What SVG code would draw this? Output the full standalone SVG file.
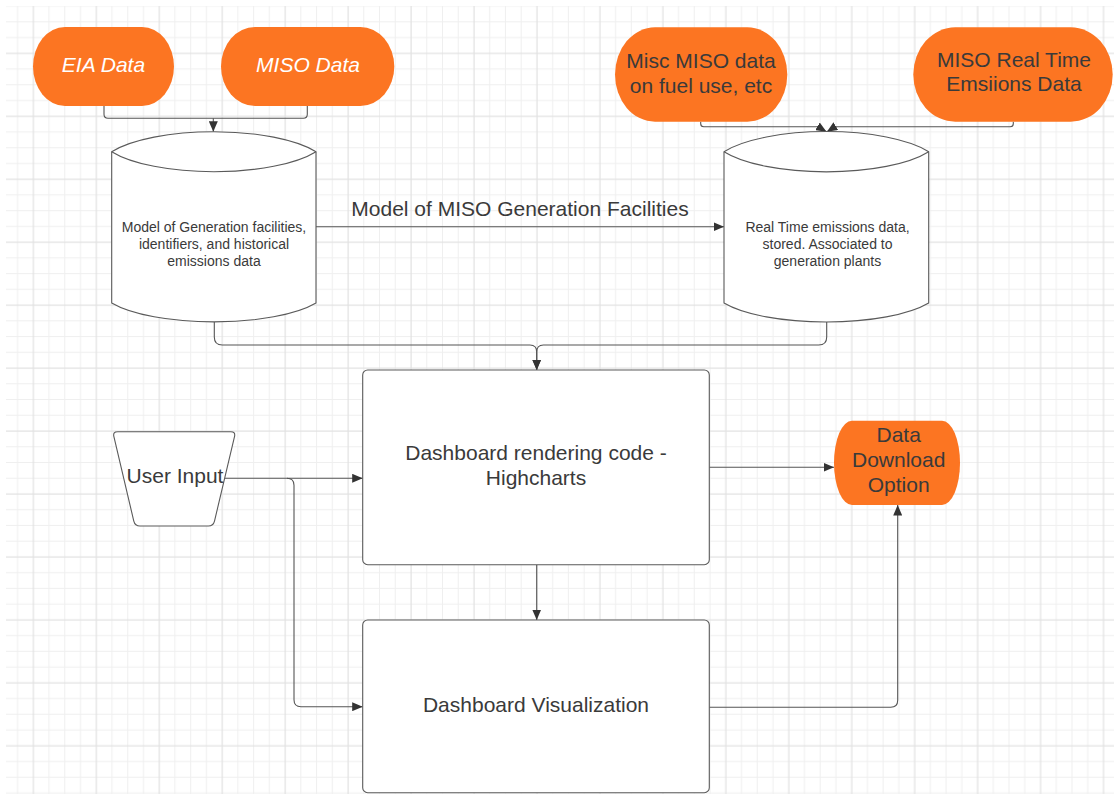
<svg xmlns="http://www.w3.org/2000/svg" width="1114" height="794" viewBox="0 0 1114 794">
  <defs>
    <style>
      .shape { fill: #ffffff; stroke: #5a5a5a; stroke-width: 1.1; }
      .orange { fill: #fc7522; stroke: none; }
      .conn { fill: none; stroke: #555555; stroke-width: 1.1; }
      .big { font-family: "Liberation Sans", Arial, sans-serif; font-size: 21px; fill: #3a3a3a; text-anchor: middle; }
      .white { fill: #ffffff; font-style: italic; }
      .small { font-family: "Liberation Sans", Arial, sans-serif; font-size: 14px; fill: #3a3a3a; text-anchor: middle; }
    </style>
    <pattern id="grid" x="33.3" y="53.3" width="62.95" height="62.95" patternUnits="userSpaceOnUse">
      <rect x="15.24" y="0" width="1" height="62.95" fill="#efefef"/>
      <rect x="30.97" y="0" width="1" height="62.95" fill="#efefef"/>
      <rect x="46.71" y="0" width="1" height="62.95" fill="#efefef"/>
      <rect x="0" y="15.24" width="62.95" height="1" fill="#efefef"/>
      <rect x="0" y="30.97" width="62.95" height="1" fill="#efefef"/>
      <rect x="0" y="46.71" width="62.95" height="1" fill="#efefef"/>
      <rect x="-0.5" y="0" width="1.2" height="62.95" fill="#e1e1e1"/>
      <rect x="62.45" y="0" width="1.2" height="62.95" fill="#e1e1e1"/>
      <rect x="0" y="-0.5" width="62.95" height="1.2" fill="#e1e1e1"/>
      <rect x="0" y="62.45" width="62.95" height="1.2" fill="#e1e1e1"/>
    </pattern>
    <marker id="arrow" markerUnits="userSpaceOnUse" markerWidth="11" markerHeight="9" refX="10.5" refY="4.5" orient="auto">
      <path d="M0,0 L10.5,4.5 L0,9 Z" fill="#333333"/>
    </marker>
  </defs>

  <rect x="0" y="0" width="1114" height="794" fill="#ffffff"/>
  <rect x="6" y="6" width="1108" height="788" fill="url(#grid)"/>

  <g id="connectors">
    <path class="conn" d="M104,106 V114.3 Q104,118.3 108,118.3 H303.3 Q307.3,118.3 307.3,114.3 V106"/>
    <path class="conn" marker-end="url(#arrow)" d="M213.3,118.3 V131.7"/>
    <path class="conn" marker-end="url(#arrow)" d="M700.7,121.7 V123.7 Q700.7,126.7 703.7,126.7 H818 L826.5,131.7"/>
    <path class="conn" marker-end="url(#arrow)" d="M1013.3,121.7 V123.7 Q1013.3,126.7 1010.3,126.7 H835 L826.9,131.7"/>
    <path class="conn" marker-end="url(#arrow)" d="M316,226.7 H724"/>
    <path class="conn" marker-end="url(#arrow)" d="M214.3,322 V337 Q214.3,345 222.3,345 H530 Q536.7,345 536.7,352 V370"/>
    <path class="conn" marker-end="url(#arrow)" d="M826.7,322 V337 Q826.7,345 818.7,345 H543.4 Q536.7,345 536.7,352 V370"/>
    <path class="conn" marker-end="url(#arrow)" d="M224.7,478.3 H362.7"/>
    <path class="conn" marker-end="url(#arrow)" d="M287,478.3 Q294,478.3 294,485.3 V699.7 Q294,706.7 301,706.7 H362.7"/>
    <path class="conn" marker-end="url(#arrow)" d="M709.3,467.3 H834"/>
    <path class="conn" marker-end="url(#arrow)" d="M536.7,564.7 V620"/>
    <path class="conn" marker-end="url(#arrow)" d="M709.3,707.3 H890.7 Q897.7,707.3 897.7,700.3 V505"/>
    <text class="big" x="520" y="215.5">Model of MISO Generation Facilities</text>
  </g>

  <g id="eia-data">
    <rect class="orange" x="33" y="27" width="141" height="79" rx="32" ry="39.5"/>
    <text class="big white" x="103.5" y="71.7">EIA Data</text>
  </g>

  <g id="miso-data">
    <rect class="orange" x="221" y="27" width="173.3" height="79" rx="34" ry="39.5" stroke="#555555" stroke-width="1"/>
    <text class="big white" x="308" y="71.7">MISO Data</text>
  </g>

  <g id="misc-miso">
    <rect class="orange" x="615" y="27.3" width="172.3" height="94.4" rx="40" ry="47.2"/>
    <text class="big" x="701" y="67.5">Misc MISO data</text>
    <text class="big" x="701" y="92.5">on fuel use, etc</text>
  </g>

  <g id="miso-realtime">
    <rect class="orange" x="913.3" y="27.3" width="199.4" height="94.4" rx="42" ry="47.2"/>
    <text class="big" x="1014" y="66.5">MISO Real Time</text>
    <text class="big" x="1014" y="91">Emsiions Data</text>
  </g>

  <g id="model-db">
    <path class="shape" d="M111.7,151.7 A115,37 0 0 1 316,151.7 V303 A115,35 0 0 1 111.7,303 Z"/>
    <path class="conn" style="stroke:#5a5a5a" d="M111.7,151.7 A115,37 0 0 0 316,151.7"/>
    <text class="small" x="214" y="231.5">Model of Generation facilities,</text>
    <text class="small" x="214" y="248.5">identifiers, and historical</text>
    <text class="small" x="214" y="265.5">emissions data</text>
  </g>

  <g id="realtime-db">
    <path class="shape" d="M724,151.7 A115,37 0 0 1 928.7,151.7 V303 A115,35 0 0 1 724,303 Z"/>
    <path class="conn" style="stroke:#5a5a5a" d="M724,151.7 A115,37 0 0 0 928.7,151.7"/>
    <text class="small" x="827.5" y="231.5">Real Time emissions data,</text>
    <text class="small" x="827.5" y="248.5">stored. Associated to</text>
    <text class="small" x="827.5" y="265.5">generation plants</text>
  </g>

  <g id="rendering">
    <rect class="shape" x="362.7" y="370" width="346.6" height="194.7" rx="5"/>
    <text class="big" x="536" y="460">Dashboard rendering code -</text>
    <text class="big" x="536" y="485">Highcharts</text>
  </g>

  <g id="user-input">
    <path class="shape" d="M117.7,431.7 H230.7 Q235.7,431.7 234.5,436.6 L214.5,521.1 Q213.3,526 208.3,526 H140 Q135,526 133.8,521.1 L113.9,436.6 Q112.7,431.7 117.7,431.7 Z"/>
    <text class="big" x="175" y="483.3">User Input</text>
  </g>

  <g id="data-download">
    <rect class="orange" x="834" y="420.7" width="126" height="84.3" rx="18" ry="42"/>
    <text class="big" x="898.7" y="441.7">Data</text>
    <text class="big" x="898.7" y="466.7">Download</text>
    <text class="big" x="898.7" y="491.7">Option</text>
  </g>

  <g id="visualization">
    <rect class="shape" x="362.7" y="620" width="346.6" height="172.7" rx="5"/>
    <text class="big" x="536" y="711.7">Dashboard Visualization</text>
  </g>
</svg>
